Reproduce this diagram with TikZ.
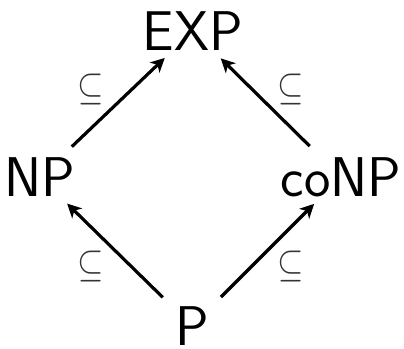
\documentclass[tikz,border=0pt]{standalone}
\usepackage{graphicx}
\usetikzlibrary{arrows.meta}
\begin{document}
\begin{tikzpicture}[x=1pt,y=-1pt,
  cls/.style={inner sep=0pt,font=\sffamily\fontsize{56}{60}\selectfont},
  sub/.style={inner sep=0pt,text=black!80},
  arr/.style={line width=3.2pt,-{Stealth[length=14pt,width=14pt,inset=4pt]}}]
\useasboundingbox (0,0) rectangle (404,348);
\node[cls] (EXP) at (193,31) {EXP};
\node[cls] (NP) at (40,177) {NP};
\node[cls] (coNP) at (341,177) {coNP};
\node[cls] (P) at (192,326) {P};
\draw[arr,shorten <=41pt,shorten >=38pt] (P.center) -- (NP.center);
\draw[arr,shorten <=41pt,shorten >=38pt] (P.center) -- (coNP.center);
\draw[arr,shorten <=44pt,shorten >=39pt] (NP.center) -- (EXP.center);
\draw[arr,shorten <=44pt,shorten >=39pt] (coNP.center) -- (EXP.center);
\node[sub] (s1) at (91,89.5) {\scalebox{3.4}[4]{$\subseteq$}};
\node[sub] (s2) at (291,89.5) {\scalebox{3.4}[4]{$\subseteq$}};
\node[sub] (s3) at (91,266.5) {\scalebox{3.4}[4]{$\subseteq$}};
\node[sub] (s4) at (291,266.5) {\scalebox{3.4}[4]{$\subseteq$}};
\end{tikzpicture}
\end{document}
